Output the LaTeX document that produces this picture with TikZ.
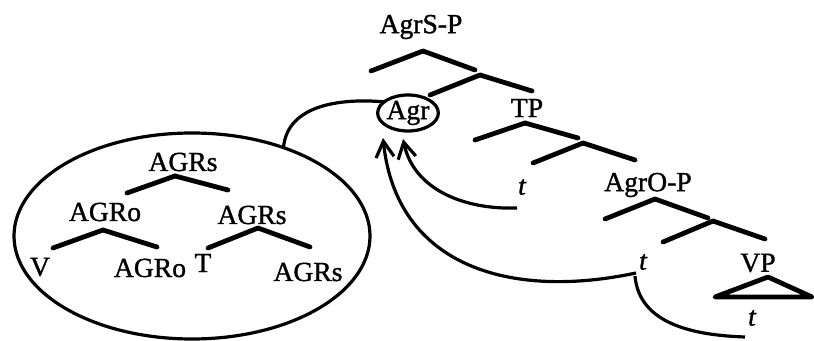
\documentclass[tikz,border=0pt]{standalone}
\usepackage{fontspec}
\setmainfont{Liberation Serif}[FakeBold=1.2]
\usepackage{tkz-euclide}
\usetikzlibrary{arrows.meta,shapes.geometric}
\tikzset{>={Straight Barb[length=8pt,width=9pt]}}
\tikzset{lbl/.style={inner sep=0pt,font=\fontsize{13.8}{15}\selectfont},
  branch/.style={line width=2.4pt,line cap=round},
  mv/.style={line width=1.6pt}}

\begin{document}
\begin{tikzpicture}[x=0.5pt,y=-0.5pt]
\useasboundingbox (0,0) rectangle (814,341);
\tkzDefPoints{423/51/A, 371/71/A1, 475/70/A2, 480/75/B, 430/95/B1, 532/91/B2,
  525/123/C, 475/140/C1, 578/138/C2, 583/143/D, 533/163/D1, 635/160/D2,
  655/199/E, 605/219/E1, 708/218/E2, 713/221/F, 663/242/F1, 765/239/F2,
  768/277/G, 715/297/G1, 812/297/G2,
  175/176/P, 127/193/P1, 228/190/P2, 103/230/Q, 53/248/Q1, 157/247/Q2,
  258/228/R, 208/248/R1, 310/247/R2}
\tkzDrawSegments[branch](A,A1 A,A2 B,B1 B,B2 C,C1 C,C2 D,D1 D,D2
  E,E1 E,E2 F,F1 F,F2 P,P1 P,P2 Q,Q1 Q,Q2 R,R1 R,R2)
\draw[branch,line join=round] (G) -- (G1) -- (G2) -- cycle;
\node[lbl] (agrsp) at (421,27) {AgrS-P};
\node[lbl,draw,ellipse,mv,minimum width=27pt,minimum height=18pt,outer sep=0pt] (agr) at (408,113) {Agr};
\node[lbl] (tp) at (527,108) {TP};
\node[lbl] (t1) at (522,187) {\itshape t};
\node[lbl] (agrop) at (648,185) {AgrO-P};
\node[lbl] (t2) at (643,262) {\itshape t};
\node[lbl] (vp) at (758,263) {VP};
\node[lbl] (t3) at (752,318) {\itshape t};
\node[draw,ellipse,mv,minimum width=178pt,minimum height=103pt,outer sep=0pt] (box) at (192,236) {};
\node[lbl] (agrs) at (183,162) {AGRs};
\node[lbl] (agro) at (105,212) {AGRo};
\node[lbl] (agrs2) at (252,215) {AGRs};
\node[lbl] (v) at (40,267) {V};
\node[lbl] (agro2) at (150,268) {AGRo};
\node[lbl] (tt) at (203,263) {T};
\node[lbl] (agrs3) at (308,272) {AGRs};
\coordinate (h1) at (403,139);
\coordinate (h2) at (383,138);
\coordinate (s1) at (517,208);
\coordinate (s2) at (636,273);
\coordinate (s3) at (635,276);
\coordinate (e3) at (745,337);
\draw[mv] (box.44) to[out=85,in=175] (agr.155);
\draw[mv,->] (s1) to[out=182,in=-78] (h1);
\draw[mv,->] (s2) to[out=192,in=-84,looseness=1.15] (h2);
\draw[mv] (s3) to[out=-85,in=178] (e3);
\end{tikzpicture}
\end{document}
